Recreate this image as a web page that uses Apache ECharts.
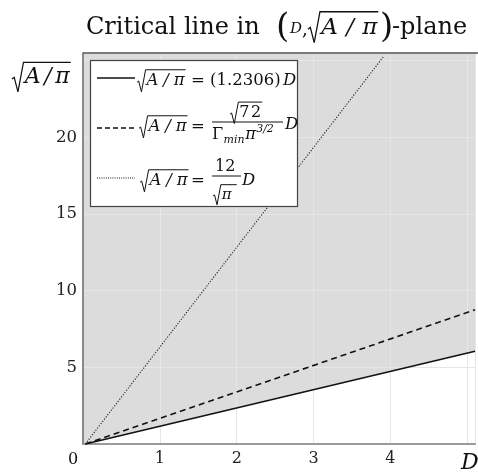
<!DOCTYPE html>
<html>
<head>
<meta charset="utf-8">
<title>Critical line</title>
<script src="https://cdn.jsdelivr.net/npm/echarts@6/dist/echarts.min.js"></script>
<style>
  html, body { margin: 0; padding: 0; background: #fff; }
  #wrap { position: relative; width: 478px; height: 473px; overflow: hidden; }
  #main { position: absolute; left: 0; top: 0; width: 478px; height: 473px; }
  .t { position: absolute; white-space: pre; color: #111; }
  svg { position: absolute; left: 0; top: 0; pointer-events: none; }
</style>
</head>
<body>
<div id="wrap"><div id="main"></div></div>
<script>
// values
var xTicks = [1, 2, 3, 4];
var yTicks = [5, 10, 15, 20];
var solidD = [0.03, 5.1],  solidR = [0, 6.05];
var dashedD = [0.03, 5.1], dashedR = [0, 8.75];
var dottedD = [0.03, 3.91], dottedR = [0, 25.27];
// shaded region: above the solid line
var fillD = [0, 0.03, 5.1, 5.1, 0];
var fillR = [0, 0, 6.05, 25.5, 25.5];
var coefText = '(1.2306)';

function pairs(xs, ys) { return xs.map(function (x, i) { return [x, ys[i]]; }); }

var SERIF = '"DejaVu Serif", serif';
var NS = 'http://www.w3.org/2000/svg';
var wrap = document.getElementById('wrap');
var mainEl = document.getElementById('main');

function mkSvg() {
    var s = document.createElementNS(NS, 'svg');
    s.setAttribute('width', 478);
    s.setAttribute('height', 473);
    return s;
}
// layer under the chart canvas for the shaded region
var under = mkSvg();
wrap.insertBefore(under, mainEl);

var chart = echarts.init(mainEl);
chart.setOption({
    animation: false,
    backgroundColor: 'transparent',
    grid: { left: 83, top: 53, right: 0, bottom: 29 },
    xAxis: {
        type: 'value', min: 0, max: 5.1, interval: 1,
        axisLine: { lineStyle: { color: '#9a9a9a', width: 2 } },
        axisTick: { show: false },
        splitLine: { lineStyle: { color: '#e6e6e6', width: 1 } },
        axisLabel: {
            margin: 7, color: '#222', fontFamily: SERIF, fontSize: 16,
            formatter: function (v) { return xTicks.indexOf(v) >= 0 ? String(v) : ''; }
        }
    },
    yAxis: {
        type: 'value', min: 0, max: 25.5, interval: 5,
        axisLine: { show: true, lineStyle: { color: '#666', width: 1.5 } },
        axisTick: { show: false },
        splitLine: { lineStyle: { color: '#e6e6e6', width: 1 } },
        axisLabel: {
            margin: 6, color: '#222', fontFamily: SERIF, fontSize: 16.5,
            formatter: function (v) { return yTicks.indexOf(v) >= 0 ? String(v) : ''; }
        }
    },
    series: [{
        type: 'line', data: pairs(solidD, solidR), symbol: 'none',
        lineStyle: { color: '#111', width: 1.6 }
    }, {
        type: 'line', data: pairs(dashedD, dashedR), symbol: 'none',
        lineStyle: { color: '#111', width: 1.6, type: [6, 4] }
    }, {
        type: 'line', data: pairs(dottedD, dottedR), symbol: 'none',
        lineStyle: { color: '#222', width: 1.1, type: [1.2, 1.6] }
    }]
});

// shaded region placed with the chart's own scales
var fillPx = pairs(fillD, fillR).map(function (p) { return chart.convertToPixel({ gridIndex: 0 }, p); });
var poly = document.createElementNS(NS, 'polygon');
poly.setAttribute('points', fillPx.map(function (q) { return q.join(','); }).join(' '));
poly.setAttribute('fill', '#dcdcdc');
under.appendChild(poly);

// ---- title, axis names and legend drawn as an overlay ----
var svg = mkSvg();
wrap.appendChild(svg);

var mctx = document.createElement('canvas').getContext('2d');
function fnt(s, it) { return (it ? 'italic ' : '') + s + 'px ' + SERIF; }
function tw(t, s, it) { mctx.font = fnt(s, it); return mctx.measureText(t).width; }

function txt(t, x, y, s, it) {
    var d = document.createElement('div');
    d.className = 't';
    d.textContent = t;
    d.style.font = fnt(s, it);
    d.style.lineHeight = s + 'px';
    d.style.left = x + 'px';
    d.style.top = (y - s / 2) + 'px';
    wrap.appendChild(d);
    return x + tw(t, s, it);
}
// spread the glyphs so the text fills width w
function fitTxt(t, x, y, s, it, w) {
    var ch = t.split('');
    var nat = tw(t, s, it);
    var gap = ch.length > 1 ? (w - nat) / (ch.length - 1) : 0;
    ch.forEach(function (c) { x = txt(c, x, y, s, it) + gap; });
}
function ln(pts, w, dash, color) {
    var p = document.createElementNS(NS, 'polyline');
    p.setAttribute('points', pts.map(function (q) { return q.join(','); }).join(' '));
    p.setAttribute('fill', 'none');
    p.setAttribute('stroke', color || '#111');
    p.setAttribute('stroke-width', w);
    if (dash) p.setAttribute('stroke-dasharray', dash.join(' '));
    svg.appendChild(p);
}
// radical sign with its bar, inner text width w
function sqrtTxt(t, x, y, s, it, w) {
    var top = y - 0.62 * s;
    var x0 = x + 0.58 * s;
    ln([[x, y + 0.14 * s], [x + 0.1 * s, y + 0.06 * s], [x + 0.27 * s, y + 0.72 * s],
        [x + 0.52 * s, top], [x0 + w + 1, top]], Math.max(1, s / 18));
    fitTxt(t, x0, y, s, it, w);
}

// top border of the plot
ln([[83, 53], [478, 53]], 1.5, null, '#555');

// legend box
var box = document.createElementNS(NS, 'rect');
box.setAttribute('x', 90.5); box.setAttribute('y', 60.5);
box.setAttribute('width', 207); box.setAttribute('height', 146);
box.setAttribute('fill', '#fff'); box.setAttribute('stroke', '#444'); box.setAttribute('stroke-width', 1.2);
svg.appendChild(box);

// title
txt('Critical line in', 86, 26, 24);
txt('(', 276, 25, 34);
txt('D', 290, 28, 15, true);
txt(',', 302, 29, 18);
sqrtTxt('A/π', 308, 26, 23, true, 56);
txt(')', 380, 25, 34);
txt('-plane', 392, 26, 24);

// axis names and the origin label
sqrtTxt('A/π', 12, 76, 22, true, 45);
txt('0', 68, 459, 16);
txt('D', 461, 462, 22, true);

var LS = 16.5;
// row 1
ln([[97, 78], [135, 78]], 1.5);
sqrtTxt('A/π', 137, 80, LS, true, 38);
txt('=', 191, 80, LS);
txt(coefText, 210, 80, LS);
txt('D', 283, 80, LS, true);
// row 2
ln([[97, 128], [134, 128]], 1.3, [5, 3]);
sqrtTxt('A/π', 139, 126, LS, true, 38);
txt('=', 191, 126, LS);
sqrtTxt('72', 230, 112, 16, false, 22);
ln([[212, 122], [283, 122]], 1);
var dx = txt('Γ', 212, 134, 16) + 0.5;
dx = txt('min', dx, 139, 11, true) + 0.5;
dx = txt('π', dx, 134, 16, true) + 0.5;
txt('3/2', dx, 128, 11, true);
txt('D', 285, 124, LS, true);
// row 3
ln([[97, 178], [135, 178]], 1, [1, 1.2]);
sqrtTxt('A/π', 140, 180, LS, true, 38);
txt('=', 191, 180, LS);
txt('12', 215, 166, 16);
ln([[212, 176], [241, 176]], 1);
sqrtTxt('π', 213, 194, 15, true, 14);
txt('D', 242, 180, LS, true);
</script>
</body>
</html>
